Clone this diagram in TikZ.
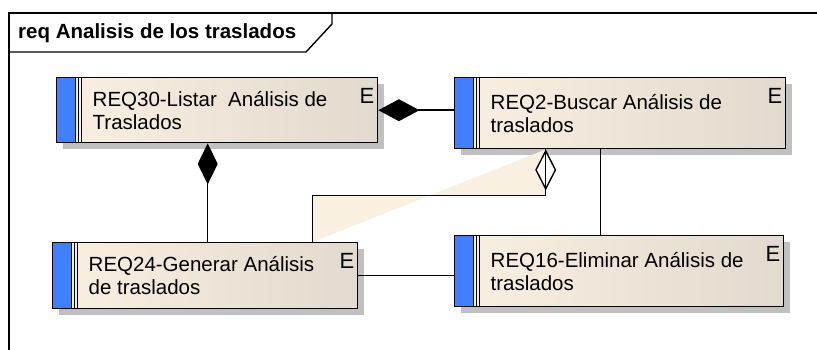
\documentclass[tikz,border=0pt]{standalone}
\usepackage{fontspec}
\setmainfont{Liberation Sans}
\usetikzlibrary{arrows.meta,positioning,calc,shadows}
\definecolor{reqblue}{RGB}{64,128,255}
\definecolor{reqlight}{RGB}{250,240,226}
\definecolor{reqdark}{RGB}{226,218,206}
\definecolor{reqshadow}{RGB}{192,192,192}
\definecolor{linkshade}{RGB}{250,240,226}
\tikzset{req/.style={rectangle,draw=black,line width=1.4pt,anchor=north west,
    left color=reqlight,right color=reqdark,inner xsep=0pt,inner ysep=0pt,
    align=flush left,font=\fontsize{20.5}{23}\selectfont,
    drop shadow={shadow xshift=6pt,shadow yshift=-6pt,fill=reqshadow,opacity=1},
    path picture={
      \draw[fill=reqblue,line width=1.4pt] (path picture bounding box.north west) rectangle ([xshift=19pt]path picture bounding box.south west);
      \draw[line width=0.8pt] ([xshift=21.5pt]path picture bounding box.north west) -- ([xshift=21.5pt]path picture bounding box.south west);
      \draw[line width=0.8pt] ([xshift=24.5pt]path picture bounding box.north west) -- ([xshift=24.5pt]path picture bounding box.south west);
    },
    label={[anchor=north east,inner sep=0pt,xshift=-4pt,yshift=-11pt,font=\fontsize{22}{22}\selectfont]north east:E}}}
\tikzset{link/.style={draw=black,line width=1.4pt}}

\begin{document}
\begin{tikzpicture}[x=1pt,y=-1pt]
    \useasboundingbox (0,0) rectangle (817,350);
    % frame and title tab
    \draw[link] (9,350) -- (9,13) -- (817,13);
    \draw[link] (9,52) -- (306,52) -- (332,24) -- (332,13);
    \node[anchor=base west,inner sep=0pt,font=\bfseries\fontsize{20.5}{20.5}\selectfont] (title) at (18,39) {req Analisis de los traslados};

    \node[req,minimum width=321pt,minimum height=65pt,text width=249pt] (req30) at (56,77) {REQ30-Listar\ \ Análisis de\\Traslados};
    \node[req,minimum width=331pt,minimum height=71pt,text width=259pt] (req2) at (454,77) {REQ2-Buscar Análisis de\\traslados};
    \node[req,minimum width=305pt,minimum height=66pt,text width=233pt] (req24) at (52,242) {REQ24-Generar Análisis\\de traslados};
    \node[req,minimum width=329pt,minimum height=71pt,text width=257pt] (req16) at (454,235) {REQ16-Eliminar Análisis de\\traslados};

    \coordinate (aggtop) at ([xshift=-74.5pt]req2.south);
    \coordinate (aggbend) at ([yshift=-46pt]aggtop);
    \coordinate (aggend) at ([xshift=107.5pt]req24.north);
    \fill[linkshade] (aggtop) -- (aggbend) -- (aggbend -| aggend) -- (aggend) -- cycle;

    \draw[link,{Diamond[length=41pt,width=22pt]}-] (req30.east) -- (req30.east -| req2.west);
    \draw[link,{Diamond[length=41pt,width=20pt]}-] ([xshift=-9.5pt]req30.south) -- ([xshift=-9.5pt]req30.south |- req24.north);
    \draw[link,{Diamond[open,fill=white,length=41pt,width=21pt]}-] (aggtop) -- (aggbend) -| (aggend);
    \draw[link] (aggtop) -- ++(0,41);
    \draw[link] (req24.east) -- (req24.east -| req16.west);
    \draw[link] ([xshift=-19.5pt]req2.south) -- ([xshift=-19.5pt]req2.south |- req16.north);
\end{tikzpicture}
\end{document}
